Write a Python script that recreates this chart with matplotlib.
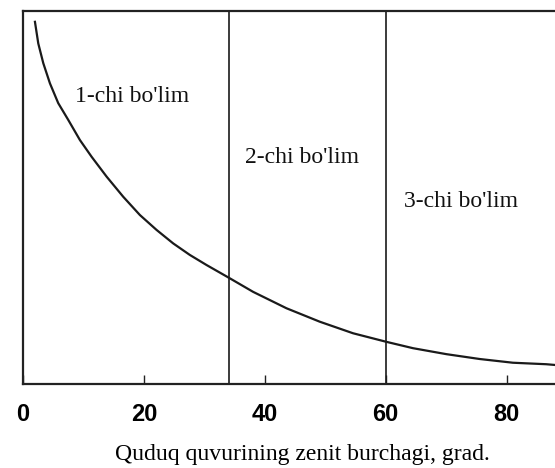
import matplotlib
matplotlib.use("Agg")
import matplotlib.pyplot as plt

# zenith angle (deg) vs. relative value
angle = [1.98, 2.53, 3.36, 4.46, 5.83, 7.49, 9.42, 11.36, 13.83, 16.58, 19.34,
         22.10, 24.84, 27.60, 30.36, 33.93, 38.07, 43.59, 49.09, 54.60, 60.12,
         64.51, 70.03, 75.54, 81.04, 86.56, 88.0]
value = [0.971, 0.913, 0.860, 0.806, 0.753, 0.708, 0.654, 0.609, 0.556, 0.502, 0.453,
         0.413, 0.377, 0.346, 0.319, 0.286, 0.247, 0.203, 0.167, 0.136, 0.113,
         0.096, 0.080, 0.067, 0.057, 0.053, 0.051]

boundaries = [34, 60]
section_labels = ["1-chi bo'lim", "2-chi bo'lim", "3-chi bo'lim"]
section_pos = [(8.6, 0.77), (36.7, 0.606), (63.0, 0.488)]
xticks = [0, 20, 40, 60, 80]
xlabel = "Quduq quvurining zenit burchagi, grad."

serif = ["Liberation Serif", "DejaVu Serif"]
sans = ["Liberation Sans", "DejaVu Sans"]

fig = plt.figure(figsize=(5.55, 4.68), dpi=100)
ax = fig.add_axes([0.0414, 0.1795, 0.9586, 0.797])

ax.plot(angle, value, color="#1a1a1a", lw=1.6)
for b in boundaries:
    ax.axvline(b, color="#1a1a1a", lw=1.2)

for (x, y), s in zip(section_pos, section_labels):
    ax.text(x, y, s, family=serif, fontsize=17, ha="left", va="center", color="#111111")

ax.set_xlim(0, 88)
ax.set_ylim(0, 1)
ax.set_yticks([])
ax.set_xticks(xticks)
ax.set_xticklabels([str(t) for t in xticks], family=sans, fontweight="bold", fontsize=17)
ax.tick_params(axis="x", direction="in", length=6.5, width=1.0, pad=14, color="#222222")

ax.spines["right"].set_visible(False)
for side in ["left", "top", "bottom"]:
    ax.spines[side].set_linewidth(1.6)
    ax.spines[side].set_color("#222222")

ax.set_xlabel(xlabel, family=serif, fontsize=17, va="center")
ax.xaxis.set_label_coords(0.526, -0.19)

fig.savefig("out.png", dpi=100)
